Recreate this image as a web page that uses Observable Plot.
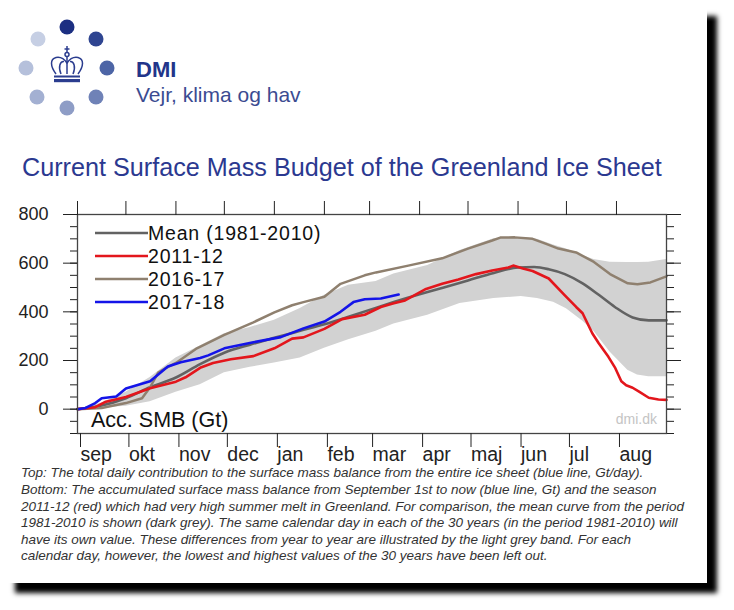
<!DOCTYPE html>
<html>
<head>
<meta charset="utf-8">
<script src="https://cdn.jsdelivr.net/npm/d3@7"></script>
<script src="https://cdn.jsdelivr.net/npm/@observablehq/plot@0.6"></script>
<style>
  body { margin: 0; background: #fff; width: 734px; height: 610px; position: relative; overflow: hidden;
         font-family: "Liberation Sans", Arial, Helvetica, sans-serif; }
  #panel { position: absolute; left: 5px; top: 6px; width: 702px; height: 577px; background: #fff;
           box-shadow: 10px 10px 5px #000; }
  #chart { position: absolute; left: 0; top: 190px; }
  #overlay { position: absolute; left: 0; top: 0; pointer-events: none; }
</style>
</head>
<body>
<div id="panel"></div>
<div id="chart"></div>
<svg id="overlay" width="734" height="610" font-family="'Liberation Sans', Arial, Helvetica, sans-serif">
  <!-- DMI logo -->
  <g>
    <circle cx="67" cy="27" r="7.5" fill="#1c2f82"/>
    <circle cx="96" cy="39" r="7.5" fill="#2f4591"/>
    <circle cx="107" cy="68" r="7.5" fill="#4d65a6"/>
    <circle cx="96" cy="97" r="7.5" fill="#6f82b7"/>
    <circle cx="67" cy="108" r="7.5" fill="#8e9dc6"/>
    <circle cx="37" cy="97" r="7.5" fill="#a3b0d2"/>
    <circle cx="26" cy="68" r="7.5" fill="#b5c0db"/>
    <circle cx="38" cy="39" r="7.5" fill="#c6cfe4"/>
    <g fill="none" stroke="#2b3d8f" stroke-width="1.5">
      <path d="M56,74 C50,66 50,59 56,57.5 C61,56.5 65,60 67,63 C69,60 73,56.5 78,57.5 C84,59 84,66 78,74"/>
      <path d="M61,74 C58,67 60,61 64,61.5"/>
      <path d="M73,74 C76,67 74,61 70,61.5"/>
      <line x1="67" y1="57" x2="67" y2="74"/>
      <circle cx="67" cy="54.5" r="2"/>
      <line x1="67" y1="46" x2="67" y2="52"/>
      <line x1="64.5" y1="49" x2="69.5" y2="49"/>
    </g>
    <rect x="54" y="75.5" width="26" height="2" fill="#2b3d8f"/>
    <rect x="54" y="79" width="26" height="3.2" fill="#2b3d8f"/>
  </g>
  <text x="136" y="77" font-size="22" font-weight="bold" fill="#22358a">DMI</text>
  <text x="136" y="102" font-size="21" fill="#3b4b91">Vejr, klima og hav</text>
  <text x="22" y="176" font-size="25.2" fill="#2b3990">Current Surface Mass Budget of the Greenland Ice Sheet</text>
  <g id="legend"></g>
  <text x="91" y="427" font-size="21.5" fill="#111">Acc. SMB (Gt)</text>
  <text x="657" y="424" font-size="14" fill="#c4c4c4" text-anchor="end">dmi.dk</text>
  <g id="caption" font-size="13.5" font-style="italic" fill="#333"></g>
</svg>
<script>
// ---- data (day index from 1 September) ----
const monthLabels = ["sep","okt","nov","dec","jan","feb","mar","apr","maj","jun","jul","aug"];
const monthStartDays = [0,30,61,91,122,153,181,212,242,273,303,334];
const yMajorTicks = [0,200,400,600,800];
const yMinorTicks = [-100,-50,0,50,100,150,200,250,300,350,400,450,500,550,600,650,700,750,800];

const bandDays = [0,15,30,45,61,76,91,107,122,138,153,168,185,196,217,237,258,275,285,295,303,313,320,330,341,347,354,365];
const bandLow  = [0,5,12,30,70,100,150,172,190,210,250,285,320,350,386,434,455,463,455,439,413,362,320,235,160,140,133,133];
const bandHigh = [0,25,70,130,210,260,310,336,365,414,468,509,525,555,590,652,700,705,698,675,658,632,615,604,603,603,604,615];

const meanDays   = [0,15,30,45,61,76,91,107,122,138,153,168,181,196,212,227,242,258,273,283,292,302,313,323,333,344,354,365];
const meanValues = [0,15,45,90,130,185,232,265,293,322,349,380,408,440,472,500,529,560,582,584,575,555,517,470,420,377,365,365];

const red1112Days   = [0,11,17,30,45,61,67,76,84,95,109,122,133,140,153,164,178,188,196,203,216,226,236,247,257,267,270,276,282,292,302,309,313,319,323,329,333,337,340,344,348,354,360,365];
const red1112Values = [0,8,29,50,86,113,131,170,190,205,218,250,290,295,330,370,388,420,435,447,494,515,533,555,570,582,590,578,568,537,468,420,394,312,271,215,172,115,98,88,72,47,40,38];

const brown1617Days   = [0,15,30,40,45,50,55,61,74,91,109,122,133,140,153,163,178,185,205,226,242,257,262,271,282,290,298,309,320,330,341,347,355,365];
const brown1617Values = [0,5,25,45,90,150,170,190,250,305,357,398,427,440,462,515,550,562,590,620,660,693,705,706,700,680,660,644,605,555,517,513,521,546];

const blue1718Days   = [0,5,11,15,24,30,45,56,64,76,81,91,109,126,140,153,163,171,178,188,199];
const blue1718Values = [0,5,25,45,52,85,115,175,193,210,221,250,275,296,332,360,400,440,452,455,471];

const legendItems = [
  {label: "Mean (1981-2010)", color: "#626262"},
  {label: "2011-12", color: "#e3161c"},
  {label: "2016-17", color: "#8f806f"},
  {label: "2017-18", color: "#1414e8"}
];
const captionLines = [
  "Top: The total daily contribution to the surface mass balance from the entire ice sheet (blue line, Gt/day).",
  "Bottom: The accumulated surface mass balance from September 1st to now (blue line, Gt) and the season",
  "2011-12 (red) which had very high summer melt in Greenland. For comparison, the mean curve from the period",
  "1981-2010 is shown (dark grey). The same calendar day in each of the 30 years (in the period 1981-2010) will",
  "have its own value. These differences from year to year are illustrated by the light grey band. For each",
  "calendar day, however, the lowest and highest values of the 30 years have been left out."
];

// ---- build ----
const band = bandDays.map((d, i) => ({day: d, lo: bandLow[i], hi: bandHigh[i]}));
const series = (days, vals) => days.map((d, i) => ({day: d, v: vals[i]}));

const chart = Plot.plot({
  width: 734, height: 275,
  marginLeft: 77, marginRight: 68, marginTop: 24, marginBottom: 32,
  x: {domain: [0, 365]},
  y: {domain: [-100, 800]},
  style: {fontFamily: '"Liberation Sans", Arial, Helvetica, sans-serif', fontSize: "17px", color: "#222", background: "transparent", overflow: "visible"},
  marks: [
    Plot.areaY(band, {x: "day", y1: "lo", y2: "hi", fill: "#d2d2d2"}),
    Plot.line(series(meanDays, meanValues), {x: "day", y: "v", stroke: legendItems[0].color, strokeWidth: 2.6, curve: "monotone-x"}),
    Plot.line(series(brown1617Days, brown1617Values), {x: "day", y: "v", stroke: legendItems[2].color, strokeWidth: 2.5}),
    Plot.line(series(red1112Days, red1112Values), {x: "day", y: "v", stroke: legendItems[1].color, strokeWidth: 2.6}),
    Plot.line(series(blue1718Days, blue1718Values), {x: "day", y: "v", stroke: legendItems[3].color, strokeWidth: 2.6}),
    Plot.frame({stroke: "#444", strokeWidth: 1.3}),
    Plot.axisY(yMajorTicks, {anchor: "left", tickSize: 14, tickPadding: 15, label: null, fontSize: 18}),
    Plot.axisY(yMinorTicks, {anchor: "left", tickSize: 7, tickFormat: () => "", label: null}),
    Plot.axisY(yMajorTicks, {anchor: "right", tickSize: 14, tickFormat: () => "", label: null}),
    Plot.axisY(yMinorTicks, {anchor: "right", tickSize: 7, tickFormat: () => "", label: null}),
    Plot.axisX(monthStartDays, {anchor: "top", tickSize: 14, tickFormat: () => "", label: null}),
    Plot.axisX(monthStartDays, {anchor: "bottom", tickSize: 14, tickPadding: 0, label: null,
      tickFormat: d => monthLabels[monthStartDays.indexOf(d)], textAnchor: "start", dx: 3, fontSize: 19.5})
  ]
});
document.getElementById("chart").appendChild(chart);

// legend
const NS = "http://www.w3.org/2000/svg";
const lg = document.getElementById("legend");
const rowY = [233, 256, 279, 302];
legendItems.forEach((it, i) => {
  const ln = document.createElementNS(NS, "line");
  ln.setAttribute("x1", 95); ln.setAttribute("x2", 148);
  ln.setAttribute("y1", rowY[i]); ln.setAttribute("y2", rowY[i]);
  ln.setAttribute("stroke", it.color); ln.setAttribute("stroke-width", 2.6);
  lg.appendChild(ln);
  const tx = document.createElementNS(NS, "text");
  tx.setAttribute("x", 148); tx.setAttribute("y", rowY[i] + 7);
  tx.setAttribute("font-size", 19.5); tx.setAttribute("letter-spacing", "0.8");
  tx.setAttribute("fill", "#111");
  tx.textContent = it.label;
  lg.appendChild(tx);
});

// caption
const cg = document.getElementById("caption");
const capY = [477, 494, 511, 527, 544, 560];
captionLines.forEach((t, i) => {
  const tx = document.createElementNS(NS, "text");
  tx.setAttribute("x", 21); tx.setAttribute("y", capY[i]);
  tx.textContent = t;
  cg.appendChild(tx);
});
</script>
</body>
</html>
